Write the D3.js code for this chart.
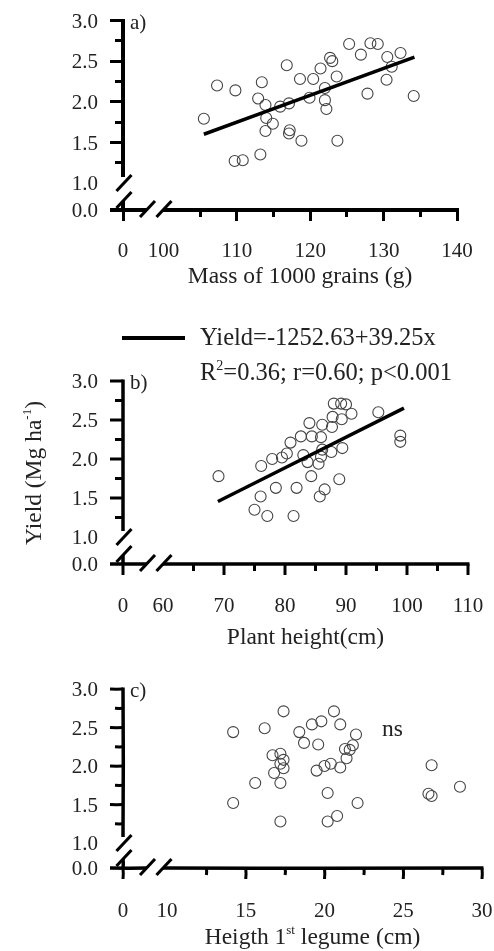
<!DOCTYPE html>
<html>
<head>
<meta charset="utf-8">
<script src="https://cdn.jsdelivr.net/npm/d3@7"></script>
<style>
  body { margin: 0; background: #fff; }
  #wrap { position: relative; width: 494px; height: 951px; }
  #wrap svg, #wrap canvas { position: absolute; left: 0; top: 0; }
  text { font-family: "Liberation Serif", "Times New Roman", serif; fill: #222; }
  .ax { position: absolute; background: #000; }
</style>
</head>
<body>
<div id="wrap">
<canvas id="axcanvas" width="494" height="951"></canvas>
<svg id="chart" width="494" height="951"></svg>
</div>
<script>
// a) mass of 1000 grains vs yield
const massGrains = [105.5, 107.3, 109.8, 113.4, 112.9, 113.9, 114.0, 114.9, 113.9, 115.9,
  116.8, 117.1, 117.2, 117.1, 118.8, 118.6, 120.4, 119.9, 121.4, 122.0,
  122.7, 123.0, 123.6, 122.0, 122.2, 123.7, 125.3, 126.9, 128.2, 129.2,
  127.8, 130.4, 130.5, 131.1, 132.3, 134.1, 109.7, 110.8, 113.2];
const yieldMass = [1.79, 2.20, 2.14, 2.24, 2.04, 1.96, 1.80, 1.73, 1.64, 1.94,
  2.45, 1.98, 1.65, 1.61, 1.52, 2.28, 2.28, 2.05, 2.41, 2.17,
  2.54, 2.50, 2.31, 2.02, 1.91, 1.52, 2.71, 2.58, 2.72, 2.71,
  2.10, 2.27, 2.55, 2.43, 2.60, 2.07, 1.27, 1.28, 1.35];
const fitMass = [[105.5, 1.60], [134.2, 2.55]];

// b) plant height vs yield
const plantHeight = [69.1, 76.1, 77.9, 79.5, 80.3, 80.9, 82.6, 84.0, 84.4, 85.9,
  86.1, 87.7, 88.0, 89.2, 90.0, 87.8, 89.3, 90.9, 95.3, 98.9,
  98.9, 86.1, 87.6, 89.4, 83.0, 83.7, 85.5, 85.9, 84.3, 88.9,
  86.5, 85.7, 78.5, 76.0, 75.0, 77.1, 81.4, 81.9];
const yieldHeight = [1.78, 1.91, 2.00, 2.02, 2.07, 2.21, 2.29, 2.46, 2.29, 2.28,
  2.44, 2.41, 2.71, 2.71, 2.70, 2.54, 2.51, 2.58, 2.60, 2.30,
  2.22, 2.12, 2.09, 2.14, 2.05, 1.96, 1.94, 2.03, 1.78, 1.74,
  1.61, 1.52, 1.63, 1.52, 1.35, 1.27, 1.27, 1.63];
const fitHeight = [[69.0, 1.455], [99.5, 2.653]];

// c) height of 1st legume vs yield
const legumeHeight = [14.2, 16.2, 17.4, 18.4, 18.7, 19.2, 19.6, 19.8, 20.6, 21.0,
  22.0, 21.3, 21.6, 21.8, 21.4, 21.0, 20.4, 20.0, 19.5, 16.7,
  17.2, 17.4, 17.2, 16.8, 17.4, 15.6, 17.2, 20.2, 26.8, 28.6,
  26.6, 26.8, 14.2, 17.2, 20.2, 20.8, 22.1];
const yieldLegume = [2.44, 2.49, 2.71, 2.44, 2.30, 2.54, 2.28, 2.58, 2.71, 2.54,
  2.41, 2.22, 2.21, 2.27, 2.10, 1.98, 2.03, 2.00, 1.94, 2.14,
  2.16, 2.08, 2.03, 1.91, 1.97, 1.78, 1.78, 1.65, 2.01, 1.73,
  1.64, 1.61, 1.52, 1.28, 1.28, 1.35, 1.52];

// axis ticks
const yMajor = [1.0, 1.5, 2.0, 2.5, 3.0];
const yMinor = [1.25, 1.75, 2.25, 2.75];
const massLabels = [100, 110, 120, 130, 140], massMinor = [105, 115, 125, 135];
const heightLabels = [60, 70, 80, 90, 100, 110], heightMinor = [65, 75, 85, 95, 105];
const legumeLabels = [10, 15, 20, 25, 30], legumeMinor = [12.5, 17.5, 22.5, 27.5];

const svg = d3.select("#chart");
const ctx = document.getElementById("axcanvas").getContext("2d");
const FS = 21, TS = 23.5;

// axis strokes: panel a as html divs, panel b on the canvas, panel c as svg polylines
function strokeDiv(g, p, q, w) {
  const left = Math.min(p[0], q[0]), top = Math.min(p[1], q[1]);
  const horiz = Math.abs(q[0] - p[0]) > Math.abs(q[1] - p[1]);
  d3.select("#wrap").append("div").attr("class", "ax")
    .style("left", (horiz ? left : left - w / 2) + "px")
    .style("top", (horiz ? top - w / 2 : top) + "px")
    .style("width", (horiz ? Math.abs(q[0] - p[0]) : w) + "px")
    .style("height", (horiz ? w : Math.abs(q[1] - p[1])) + "px");
}
function strokeCanvas(g, p, q, w) {
  ctx.beginPath();
  ctx.moveTo(p[0], p[1]);
  ctx.lineTo(q[0], q[1]);
  ctx.lineWidth = w;
  ctx.strokeStyle = "#000";
  ctx.stroke();
}
function strokePolyline(g, p, q, w) {
  const mid = [(p[0] + q[0]) / 2 + 0.3, (p[1] + q[1]) / 2 + 0.3];
  g.append("polyline").attr("points", [p, mid, q].map(d => d.join(",")).join(" "))
    .attr("fill", "none").attr("stroke", "#000").attr("stroke-width", w);
}

function panel(cfg) {
  const g = svg.append("g");
  const x = d3.scaleLinear().domain(cfg.xDomain).range([cfg.xLeft, cfg.xRight]);
  const y = d3.scaleLinear().domain([1, 3]).range([cfg.yOne, cfg.yTop]);
  const x0 = 123, y0 = cfg.yZero;
  const s = cfg.stroke;

  // y axis, broken between 1.0 and 0.0
  s(g, [x0, y(3) - 1.5], [x0, y(1) - 6], 3.5);
  s(g, [x0, y0 - 9], [x0, y0], 3.5);
  yMajor.filter(v => v > 1).forEach(v => s(g, [x0 - 13, y(v)], [x0, y(v)], 3));
  yMinor.forEach(v => s(g, [x0 - 8, y(v)], [x0, y(v)], 3));

  // x axis, broken between 0 and the first label
  s(g, [x0 - 13, y0], [147, y0], 3.5);
  s(g, [163, y0], [cfg.xRight + 1.5, y0], 3.5);
  s(g, [x0, y0], [x0, y0 + 11], 3);
  cfg.xLabels.slice(1).forEach(v => s(g, [x(v), y0], [x(v), y0 + 11], 3));
  cfg.xMinor.forEach(v => s(g, [x(v), y0], [x(v), y0 + 7], 3));

  g.selectAll(".ylab").data(yMajor).join("text").attr("class", "ylab")
    .attr("x", x0 - 25).attr("y", d => y(d)).attr("dy", "0.35em")
    .attr("text-anchor", "end").attr("font-size", FS).text(d => d.toFixed(1));
  g.append("text").attr("x", x0 - 25).attr("y", y0).attr("dy", "0.35em")
    .attr("text-anchor", "end").attr("font-size", FS).text("0.0");
  g.selectAll(".xlab").data(cfg.xLabels).join("text").attr("class", "xlab")
    .attr("x", d => x(d)).attr("y", y0 + cfg.labDy).attr("text-anchor", "middle")
    .attr("font-size", FS).text(d => d);
  g.append("text").attr("x", x0).attr("y", y0 + cfg.labDy).attr("text-anchor", "middle")
    .attr("font-size", FS).text("0");

  // break slashes
  const slash = (cx, cy) => g.append("path")
    .attr("d", d3.line()([[cx - 7.5, cy + 8], [cx + 7.5, cy - 8]]))
    .attr("stroke", "#000").attr("stroke-width", 3).attr("fill", "none");
  slash(x0 + 1, y(1));
  slash(x0 + 1, y0 - 10);
  slash(147.5, y0 - 1);
  slash(164, y0 - 1);

  // points
  g.selectAll("circle").data(d3.zip(cfg.xs, cfg.ys)).join("circle")
    .attr("cx", d => x(d[0])).attr("cy", d => y(d[1])).attr("r", 5.5)
    .attr("fill", "none").attr("stroke", "#444").attr("stroke-width", 1.1);

  if (cfg.fit) {
    g.append("path").datum(cfg.fit)
      .attr("d", d3.line().x(d => x(d[0])).y(d => y(d[1])))
      .attr("stroke", "#000").attr("stroke-width", 3.5).attr("fill", "none");
  }

  g.append("text").attr("x", 130).attr("y", y(3) + 8).attr("font-size", FS).text(cfg.tag);

  const title = g.append("text").attr("x", (x0 + cfg.xRight) / 2 + 10).attr("y", y0 + cfg.titleDy)
    .attr("text-anchor", "middle").attr("font-size", TS);
  cfg.title(title);
}

panel({
  xDomain: [100, 140], xLeft: 163.5, xRight: 457, yTop: 20.5, yOne: 183, yZero: 210,
  labDy: 47, titleDy: 73, stroke: strokeDiv,
  xLabels: massLabels, xMinor: massMinor, xs: massGrains, ys: yieldMass, fit: fitMass, tag: "a)",
  title: t => t.text("Mass of 1000 grains (g)")
});

panel({
  xDomain: [60, 110], xLeft: 163, xRight: 468, yTop: 381, yOne: 537, yZero: 564,
  labDy: 48, titleDy: 80, stroke: strokeCanvas,
  xLabels: heightLabels, xMinor: heightMinor, xs: plantHeight, ys: yieldHeight, fit: fitHeight, tag: "b)",
  title: t => t.text("Plant height(cm)")
});

panel({
  xDomain: [10, 30], xLeft: 167, xRight: 482, yTop: 689, yOne: 843, yZero: 868,
  labDy: 49, titleDy: 76, stroke: strokePolyline,
  xLabels: legumeLabels, xMinor: legumeMinor, xs: legumeHeight, ys: yieldLegume, fit: null, tag: "c)",
  title: t => {
    t.append("tspan").text("Heigth 1");
    t.append("tspan").attr("font-size", 13).attr("dy", -10).text("st");
    t.append("tspan").attr("dy", 10).text(" legume (cm)");
  }
});

svg.append("text").attr("x", 382).attr("y", 736).attr("font-size", TS).text("ns");

// legend for the fitted line
svg.append("rect").attr("x", 122).attr("y", 336).attr("width", 63).attr("height", 4).attr("fill", "#000");
svg.append("text").attr("x", 200).attr("y", 345).attr("font-size", 24.5).text("Yield=-1252.63+39.25x");
const r2 = svg.append("text").attr("x", 200).attr("y", 380).attr("font-size", 24.5);
r2.append("tspan").text("R");
r2.append("tspan").attr("font-size", 14).attr("dy", -10).text("2");
r2.append("tspan").attr("dy", 10).text("=0.36; r=0.60; p<0.001");

// shared y title
const yt = svg.append("text").attr("transform", "translate(41,473) rotate(-90)")
  .attr("text-anchor", "middle").attr("font-size", TS);
yt.append("tspan").text("Yield  (Mg ha");
yt.append("tspan").attr("font-size", 13).attr("dy", -10).text("-1");
yt.append("tspan").attr("dy", 10).text(")");
</script>
</body>
</html>
